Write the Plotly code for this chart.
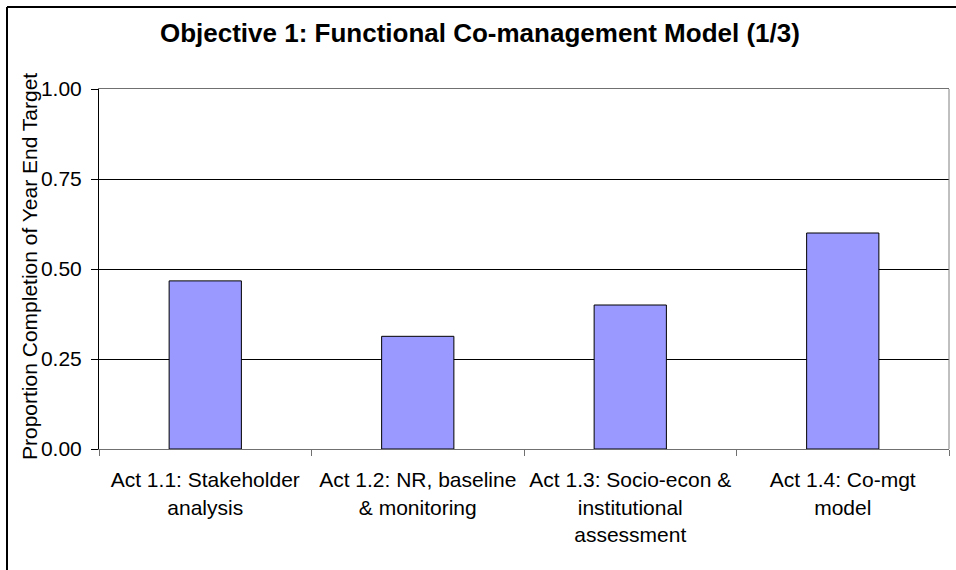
import plotly.graph_objects as go

categories = [
    "Act 1.1: Stakeholder<br>analysis",
    "Act 1.2: NR, baseline<br>& monitoring",
    "Act 1.3: Socio-econ &<br>institutional<br>assessment",
    "Act 1.4: Co-mgt<br>model",
]
values = [0.467, 0.313, 0.40, 0.60]
y_ticks = [0.0, 0.25, 0.5, 0.75, 1.0]
y_tick_labels = ["0.00", "0.25", "0.50", "0.75", "1.00"]
y_title = "Proportion Completion of Year End Target"

FONT = "Liberation Sans, Arial, sans-serif"

fig = go.Figure(
    go.Bar(
        x=categories,
        y=values,
        width=0.34,
        marker=dict(color="#9999FF", line=dict(color="#000000", width=1)),
    )
)

fig.update_layout(
    width=956,
    height=570,
    margin=dict(l=99, r=7, t=89, b=121),
    paper_bgcolor="white",
    plot_bgcolor="white",
    showlegend=False,
    font=dict(family=FONT, size=21, color="black"),
    title=dict(
        text="<b>Objective 1: Functional Co-management Model (1/3)</b>",
        x=0.502,
        xanchor="center",
        y=1 - 33 / 570,
        yanchor="middle",
        font=dict(family=FONT, size=26, color="black"),
    ),
)

fig.update_xaxes(
    showline=True,
    linecolor="#707070",
    linewidth=1,
    mirror=True,
    ticks="outside",
    tickson="boundaries",
    ticklen=6,
    tickcolor="#707070",
    showgrid=False,
    ticklabelstandoff=12,
    tickfont=dict(family=FONT, size=21, color="black"),
)

fig.update_yaxes(
    range=[0, 1],
    tickvals=y_ticks,
    ticktext=y_tick_labels,
    showline=True,
    linecolor="black",
    linewidth=1,
    ticks="outside",
    ticklen=7,
    tickcolor="black",
    showgrid=True,
    gridcolor="black",
    gridwidth=1,
    zeroline=False,
    ticklabelstandoff=5,
    tickfont=dict(family=FONT, size=21, color="black"),
)

# y-axis title as rotated annotation
fig.add_annotation(
    text=y_title, textangle=-90, showarrow=False,
    xref="paper", yref="paper",
    x=(29 - 99) / 850, y=(449 - 267) / 360,
    xanchor="center", yanchor="middle",
    font=dict(family=FONT, size=21, color="black"),
)

# right plot border (gray)
fig.add_shape(type="line", xref="paper", yref="paper", x0=1, x1=1, y0=0, y1=1,
              line=dict(color="#808080", width=1))
# outer chart frame: left and top edges
fig.add_shape(type="line", xref="paper", yref="paper",
              x0=(7 - 99) / 850, x1=(7 - 99) / 850, y0=-0.6, y1=(449 - 7) / 360,
              line=dict(color="black", width=2))
fig.add_shape(type="line", xref="paper", yref="paper",
              x0=(7 - 99) / 850, x1=1.3, y0=(449 - 7) / 360, y1=(449 - 7) / 360,
              line=dict(color="black", width=2))

fig.write_html(
    "out.html",
    config={"displayModeBar": False},
    post_script="document.body.style.margin='0';document.body.style.padding='0';",
)
